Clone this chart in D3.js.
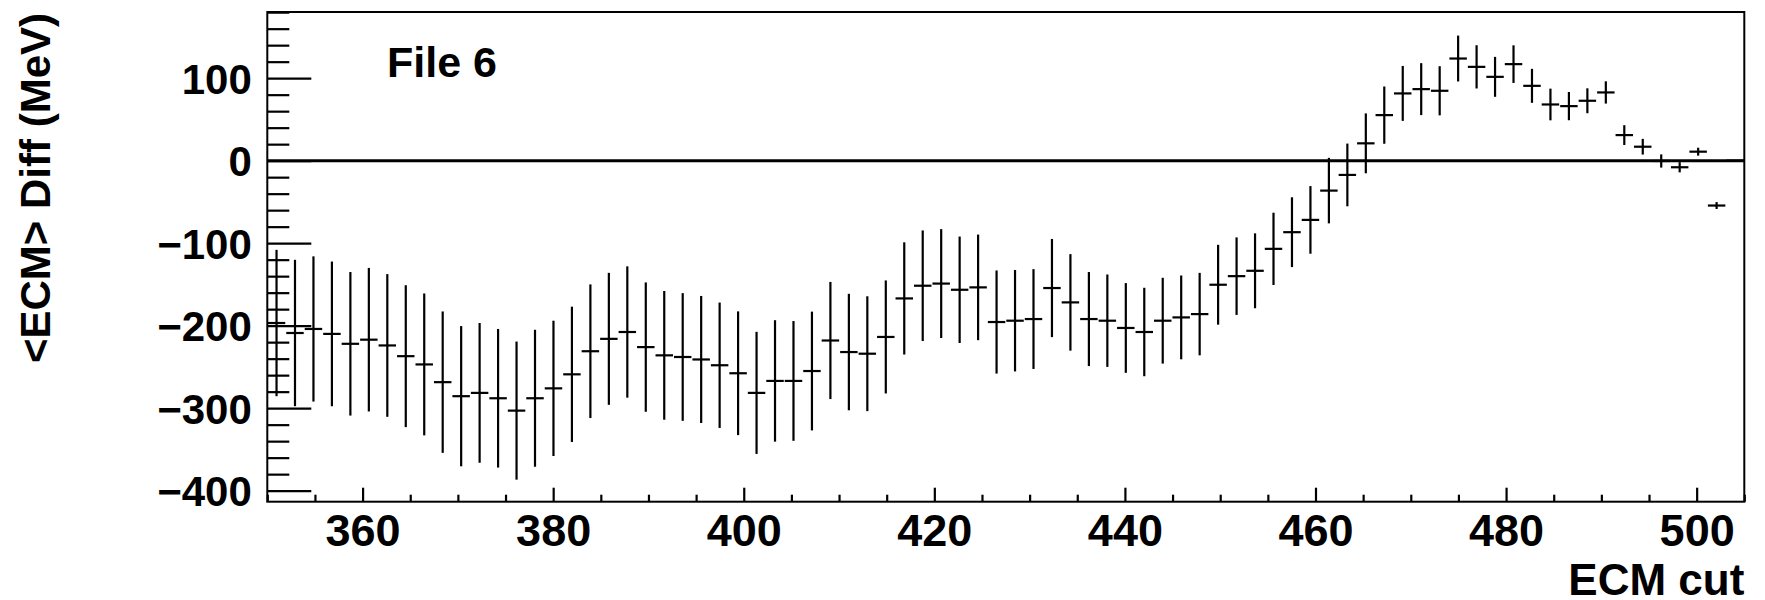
<!DOCTYPE html>
<html>
<head>
<meta charset="utf-8">
<script src="https://cdn.jsdelivr.net/npm/d3@7"></script>
<style>
  html, body { margin: 0; padding: 0; background: #fff; }
  svg text { font-family: "Liberation Sans", Arial, Helvetica, sans-serif; font-weight: bold; fill: #000; }
</style>
</head>
<body>
<svg id="chart" width="1765" height="600"></svg>
<script>
// Histogram binning (80 bins between 350 and 505)
const binRange = [350, 505];
const nBins = 80;

// Bin contents: <ECM> difference (MeV) per ECM cut bin
const diffValues = [
  -196.8, -208.9, -204, -210, -222, -217, -224, -237, -247, -268.5,
  -285.5, -281.5, -288, -303, -288, -276, -259, -231, -216, -207.7,
  -226, -236, -238, -241, -248, -257.7, -281.5, -267, -267, -255,
  -218, -232, -234, -213.7, -167, -151.6, -149, -156.5, -153.6, -195.6,
  -194, -192, -154.4, -171.8, -192, -194, -202.8, -207.7, -194, -190,
  -186, -150.4, -140, -133.5, -106.9, -86.7, -71.8, -36.3, -17.3, 21,
  55.2, 81.5, 86.7, 84.7, 123.8, 113.7, 101.6, 117, 90.7, 68.1,
  66.1, 72.6, 82.7, 31, 16.9, -0.4, -8, 10.9, -54.4, 0
];

// Bin errors (MeV)
const diffErrors = [
  88.7, 88.7, 88, 87.7, 87, 87, 86.5, 86, 86, 85.7,
  85, 84.7, 84, 83.7, 83, 82, 82, 81, 80, 79.6,
  78.4, 78, 77.4, 77, 76, 75, 74, 73.6, 72.6, 72,
  71, 70.6, 69.6, 68.5, 68, 67, 66, 64.5, 64, 62.5,
  61.5, 60.5, 59.5, 58.5, 57, 56, 54.4, 53.6, 52, 50.8,
  50, 48.4, 47, 45.4, 43.8, 42.3, 41, 39.7, 38, 36.3,
  34.7, 33.3, 31.5, 29.8, 27.8, 26.2, 24.2, 22.8, 20.6, 19.2,
  17.1, 15.1, 13.5, 12, 9.5, 8, 6.2, 4.8, 4.2, 0
];

// Axis ticks and labels
const xMajorTicks = [360, 380, 400, 420, 440, 460, 480, 500];
const yMajorTicks = [100, 0, -100, -200, -300, -400];
const yRange = [-413.4, 180.2];
const xTitle = "ECM cut";
const yTitle = "<ECM> Diff (MeV)";
const panelLabel = "File 6";

const frame = { left: 267.3, right: 1744.3, top: 12, bottom: 501.7 };

const svg = d3.select("#chart");

const x = d3.scaleLinear().domain(binRange).range([frame.left, frame.right]);
const y = d3.scaleLinear().domain(yRange).range([frame.bottom, frame.top]);

const binWidth = (binRange[1] - binRange[0]) / nBins;
const bins = diffValues.map((v, i) => ({
  lo: binRange[0] + i * binWidth,
  hi: binRange[0] + (i + 1) * binWidth,
  v,
  e: diffErrors[i]
}));

const xMinor = d3.range(binRange[0], binRange[1] + 0.001, 5).filter(t => !xMajorTicks.includes(t));
const yMinor = d3.range(-400, yRange[1], 20).filter(t => !yMajorTicks.includes(t));

// Y axis: ticks point into the frame
const yAxisMajor = d3.axisLeft(y).tickValues(yMajorTicks).tickSizeInner(-44).tickSizeOuter(0).tickPadding(15.5).tickFormat(d3.format("d"));
const yAxisMinor = d3.axisLeft(y).tickValues(yMinor).tickSizeInner(-22).tickSizeOuter(0).tickFormat("");

svg.append("g").attr("transform", `translate(${frame.left},0)`).call(yAxisMinor);
const gy = svg.append("g").attr("transform", `translate(${frame.left},0)`).call(yAxisMajor);
gy.selectAll("text").attr("font-size", 42).attr("dy", "0.36em");

// X axis
const xAxisMajor = d3.axisBottom(x).tickValues(xMajorTicks).tickSizeInner(-14).tickSizeOuter(0).tickPadding(12).tickFormat(d3.format("d"));
const xAxisMinor = d3.axisBottom(x).tickValues(xMinor).tickSizeInner(-7).tickSizeOuter(0).tickFormat("");

svg.append("g").attr("transform", `translate(0,${frame.bottom})`).call(xAxisMinor);
const gx = svg.append("g").attr("transform", `translate(0,${frame.bottom})`).call(xAxisMajor);
gx.selectAll("text").attr("font-size", 45);

svg.selectAll(".domain").remove();
svg.selectAll(".tick line").attr("stroke", "#000").attr("stroke-width", 2.2);

// Frame
svg.append("rect")
  .attr("x", frame.left).attr("y", frame.top)
  .attr("width", frame.right - frame.left).attr("height", frame.bottom - frame.top)
  .attr("fill", "none").attr("stroke", "#000").attr("stroke-width", 2);

// Zero reference line
svg.append("line")
  .attr("x1", x(binRange[0])).attr("x2", x(binRange[1]))
  .attr("y1", y(0)).attr("y2", y(0))
  .attr("stroke", "#000").attr("stroke-width", 3);

// Error-bar markers: horizontal bin width, vertical +/- error
const pts = svg.append("g").attr("stroke", "#000").attr("stroke-width", 2.2);
pts.selectAll("line.h").data(bins).join("line")
  .attr("class", "h")
  .attr("x1", d => x(d.lo) + 0.5).attr("x2", d => x(d.hi) - 0.5)
  .attr("y1", d => y(d.v)).attr("y2", d => y(d.v));
pts.selectAll("line.v").data(bins.filter(d => d.e > 0)).join("line")
  .attr("class", "v")
  .attr("x1", d => x((d.lo + d.hi) / 2)).attr("x2", d => x((d.lo + d.hi) / 2))
  .attr("y1", d => y(d.v + d.e)).attr("y2", d => y(d.v - d.e));

// Titles
svg.append("text")
  .attr("x", frame.right).attr("y", 595)
  .attr("text-anchor", "end").attr("font-size", 44)
  .text(xTitle);

svg.append("text")
  .attr("transform", `translate(50,${frame.top + 1}) rotate(-90)`)
  .attr("text-anchor", "end").attr("font-size", 42)
  .text(yTitle);

svg.append("text")
  .attr("x", 387).attr("y", 77)
  .attr("font-size", 43)
  .text(panelLabel);
</script>
</body>
</html>
